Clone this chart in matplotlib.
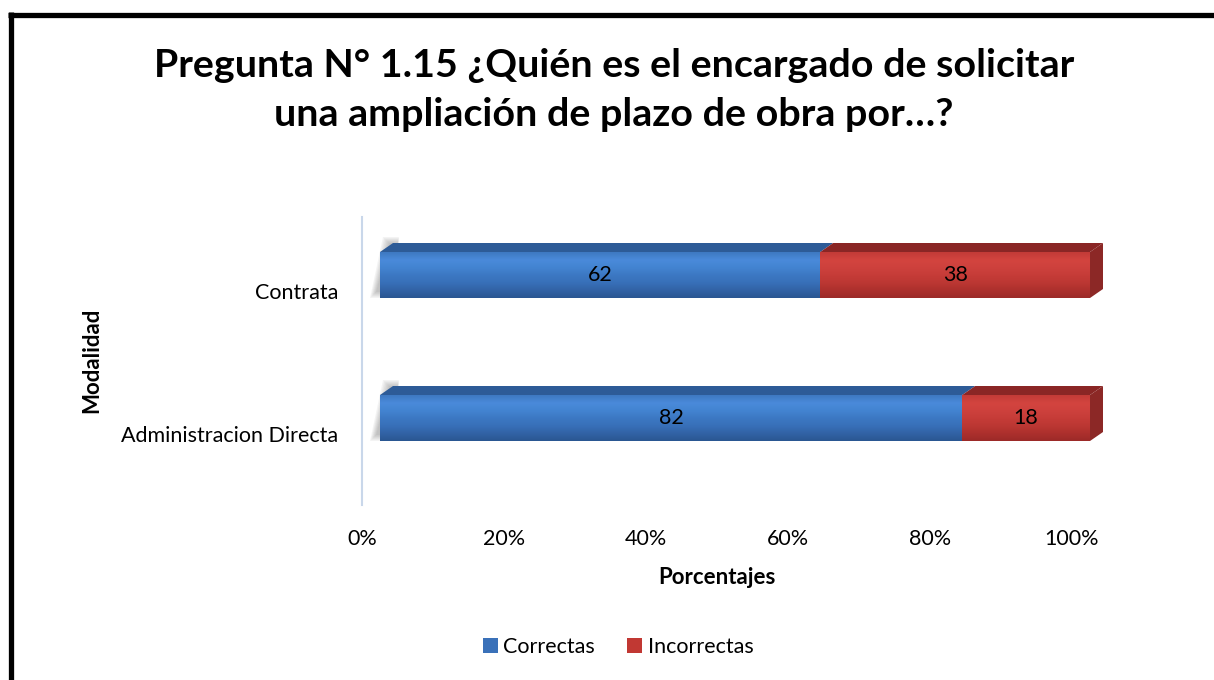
import matplotlib
matplotlib.use("Agg")
import matplotlib.pyplot as plt
import numpy as np
from matplotlib.patches import Polygon, Rectangle
from matplotlib.transforms import ScaledTranslation
from matplotlib.lines import Line2D
from matplotlib.colors import LinearSegmentedColormap

# ---------------- data ----------------
categories = ["Administracion Directa", "Contrata"]
correctas = [82, 62]
incorrectas = [18, 38]
series_names = ["Correctas", "Incorrectas"]
xtick_values = [0, 20, 40, 60, 80, 100]
xtick_labels = ["0%", "20%", "40%", "60%", "80%", "100%"]
title_text = "Pregunta N° 1.15 ¿Quién es el encargado de solicitar\nuna ampliación de plazo de obra por…?"
xlabel_text = "Porcentajes"
ylabel_text = "Modalidad"

# ---------------- style ----------------
FONT = ["Lato", "DejaVu Sans"]
plt.rcParams['font.family'] = FONT
W, H = 1214, 680
fig = plt.figure(figsize=(W / 100, H / 100), dpi=100)
fig.patch.set_facecolor("white")

ax = fig.add_axes([362 / W, 1 - 505 / H, (1090 - 362) / W, 288 / H])
px_x = 710 / 100.0          # pixels per percent
px_y = 143.0                # pixels per category unit
xmin = -18 / px_x
ylo = -87 / px_y
yhi = (288 - 87) / px_y
bar_h = 46 / px_y
dx = 13 / px_x              # depth offset (3D look)
dy = 9 / px_y

blue_cmap = LinearSegmentedColormap.from_list(
    "b", ["#2A5792", "#3263A6", "#3870B9", "#3C78C3", "#4384D1", "#4A8ADA", "#3E79C2"])
red_cmap = LinearSegmentedColormap.from_list(
    "r", ["#9C2A28", "#AD302D", "#BC3733", "#C63C38", "#CE413D", "#D3443F", "#C33B37"])
top_colors = ["#2D5B97", "#8A2625"]
side_colors = ["#2A528A", "#8C2826"]
grad = np.linspace(0, 1, 64).reshape(-1, 1)

y = np.arange(len(categories))
series = [correctas, incorrectas]
cmaps = [blue_cmap, red_cmap]
legend_colors = ["#3A71B9", "#C13833"]

TICK_FS = 15.5

# soft shadow at left end of bars
for yi in y:
    for k in range(6):
        grow = k * 1.2
        sh = Polygon([[-(4 + grow) / px_x, yi - bar_h / 2 + (6 - grow) / px_y],
                      [6 / px_x, yi - bar_h / 2 + (6 - grow) / px_y],
                      [6 / px_x + dx, yi + bar_h / 2 + dy + grow / px_y],
                      [-(4 + grow) / px_x + dx, yi + bar_h / 2 + dy + grow / px_y]],
                     closed=True, facecolor="#404040", edgecolor="none",
                     alpha=0.06, zorder=1)
        ax.add_patch(sh)

left = np.zeros(len(categories))
for si, vals in enumerate(series):
    bars = ax.barh(y, vals, left=left, height=bar_h, color=legend_colors[si],
                   edgecolor="none", zorder=3, label=series_names[si])
    for bi, b in enumerate(bars):
        x0, yb = b.get_x(), b.get_y()
        w, h = b.get_width(), b.get_height()
        im = ax.imshow(grad, extent=(x0, x0 + w, yb, yb + h), origin="lower",
                       aspect="auto", cmap=cmaps[si], zorder=4, interpolation="bilinear")
        im.set_clip_path(b)
        # top face
        top = Polygon([[x0, yb + h], [x0 + w, yb + h], [x0 + w + dx, yb + h + dy],
                       [x0 + dx, yb + h + dy]], closed=True, facecolor=top_colors[si],
                      edgecolor="none", zorder=5, clip_on=False)
        ax.add_patch(top)
        # side face on the right end
        if si == len(series) - 1:
            side = Polygon([[x0 + w, yb], [x0 + w, yb + h], [x0 + w + dx, yb + h + dy],
                            [x0 + w + dx, yb + dy]], closed=True,
                           facecolor=side_colors[si], edgecolor="none", zorder=5,
                           clip_on=False)
            ax.add_patch(side)
        ax.text(x0 + w / 2, yb + h / 2, f"{vals[bi]}", ha="center", va="center",
                fontsize=TICK_FS, color="black", zorder=6)
    left = left + np.array(vals)

ax.set_xlim(xmin, 100)
ax.set_ylim(ylo, yhi)

# axes styling
for s in ["top", "right", "bottom"]:
    ax.spines[s].set_visible(False)
ax.spines["left"].set_color("#C9D7EA")
ax.spines["left"].set_linewidth(1.5)
ax.set_facecolor("none")

ax.set_xticks(xtick_values)
ax.set_xticklabels(xtick_labels, fontsize=TICK_FS)
ax.set_yticks(y)
ax.set_yticklabels(categories, fontsize=TICK_FS)
ax.tick_params(axis="both", length=0)
ax.tick_params(axis="x", pad=17)
ax.tick_params(axis="y", pad=17)
offx = ScaledTranslation(-18 / 100, 0, fig.dpi_scale_trans)
for lab in ax.get_xticklabels():
    lab.set_transform(lab.get_transform() + offx)
offy = ScaledTranslation(0, -16 / 100, fig.dpi_scale_trans)
for lab in ax.get_yticklabels():
    lab.set_transform(lab.get_transform() + offy)

# labels / title
fig.text(717 / W, 1 - 577 / H, xlabel_text, ha="center", va="center",
         fontsize=16, fontweight="bold")
fig.text(92 / W, 1 - 360 / H, ylabel_text, ha="center", va="center",
         fontsize=16, fontweight="bold", rotation=90)
fig.text(614 / W, 1 - 90 / H, title_text, ha="center", va="center",
         fontsize=28.4, fontweight="bold", linespacing=1.48)

# legend
handles = [Rectangle((0, 0), 1, 1, facecolor=c, edgecolor="none") for c in legend_colors]
fig.legend(handles, series_names, loc="center", bbox_to_anchor=(618 / W, 1 - 647 / H),
           ncol=2, frameon=False, fontsize=15.5, handlelength=0.7, handleheight=0.7,
           handletextpad=0.25, columnspacing=1.5)

# frame border (top & left)
fig.add_artist(Line2D([10.5 / W, 10.5 / W], [0, 1 - 12 / H], transform=fig.transFigure,
                      color="black", linewidth=3.8, solid_capstyle="butt"))
fig.add_artist(Line2D([8 / W, 1], [1 - 14.5 / H, 1 - 14.5 / H], transform=fig.transFigure,
                      color="black", linewidth=3.8, solid_capstyle="butt"))

fig.savefig("out.png", dpi=100, facecolor="white")
